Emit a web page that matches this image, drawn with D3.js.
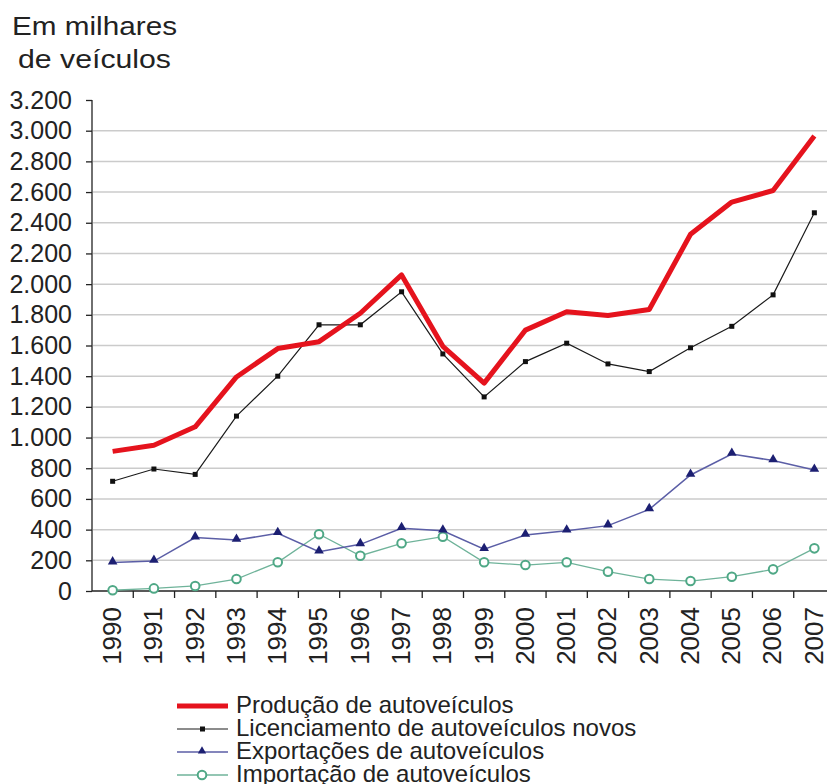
<!DOCTYPE html>
<html><head><meta charset="utf-8">
<script src="https://cdn.jsdelivr.net/npm/d3@7"></script>
<style>
html,body{margin:0;padding:0;background:#fff;}
svg{display:block;font-family:"Liberation Sans",Arial,sans-serif;}
</style></head>
<body><svg id="chart" width="827" height="784"></svg>
<script>
const years = ["1990","1991","1992","1993","1994","1995","1996","1997","1998","1999","2000","2001","2002","2003","2004","2005","2006","2007"];
const producao = [910,950,1070,1395,1580,1625,1810,2060,1595,1355,1700,1820,1795,1835,2325,2535,2610,2965];
const licenciamento = [715,795,760,1140,1400,1735,1735,1950,1545,1265,1495,1615,1480,1430,1585,1725,1930,2465];
const exportacoes = [185,195,348,332,376,256,304,409,393,272,365,393,426,532,756,893,850,789];
const importacao = [5,17,33,78,187,370,230,311,354,187,169,187,126,78,65,93,141,278];
const yTicks = [0,200,400,600,800,1000,1200,1400,1600,1800,2000,2200,2400,2600,2800,3000,3200];
const titleLines = ["Em milhares", "de veículos"];
const seriesNames = ["Produção de autoveículos","Licenciamento de autoveículos novos","Exportações de autoveículos","Importação de autoveículos"];

const svg = d3.select("#chart");
const fmt = d3.formatLocale({decimal:",", thousands:".", grouping:[3], currency:["",""]}).format(",");

const x = d3.scaleBand().domain(years).range([92, 835]).padding(0);
const y = d3.scaleLinear().domain([0, 3200]).range([591, 100]);

// title
svg.append("text").attr("x", 12).attr("y", 35).attr("font-size", 26).attr("fill", "#222")
  .attr("textLength", 165).attr("lengthAdjust", "spacingAndGlyphs").text(titleLines[0]);
svg.append("text").attr("x", 18).attr("y", 68).attr("font-size", 26).attr("fill", "#222")
  .attr("textLength", 153).attr("lengthAdjust", "spacingAndGlyphs").text(titleLines[1]);

// gridlines
svg.append("g").selectAll("line").data(yTicks.filter(d => d > 0 && d < 3200)).join("line")
  .attr("x1", 93).attr("x2", 827).attr("y1", d => y(d)).attr("y2", d => y(d))
  .attr("stroke", "#cbcbcb").attr("stroke-width", 1.5);

// y axis
const yAxis = svg.append("g").attr("transform", "translate(92,0)")
  .call(d3.axisLeft(y).tickValues(yTicks).tickFormat(fmt).tickSize(6).tickPadding(14));
yAxis.select(".domain").attr("stroke", "#222").attr("stroke-width", 1.3).attr("d", "M0,100V591");
yAxis.selectAll(".tick line").attr("stroke", "#222").attr("stroke-width", 1.3);
yAxis.selectAll(".tick text").attr("font-size", 25).attr("fill", "#222").attr("font-family", "Liberation Sans, Arial, sans-serif");

// x axis
const xAxisG = svg.append("g").attr("transform", "translate(0,591)");
xAxisG.append("line").attr("x1", 92).attr("x2", 827).attr("y1", 0).attr("y2", 0).attr("stroke", "#222").attr("stroke-width", 1.5);
xAxisG.selectAll("line.tk").data(years.slice(1)).join("line").attr("class","tk")
  .attr("x1", d => x(d)).attr("x2", d => x(d)).attr("y1", 0).attr("y2", 7)
  .attr("stroke", "#222").attr("stroke-width", 1.3);
xAxisG.selectAll("text").data(years).join("text")
  .attr("transform", d => `translate(${x(d) + x.bandwidth()/2 - 1},16) rotate(-90)`)
  .attr("text-anchor", "end").attr("dy", "0.36em")
  .attr("font-size", 26).attr("fill", "#222").text(d => d);

const cx = d => x(d) + x.bandwidth()/2;
const lineGen = vals => d3.line().x((d,i) => cx(years[i])).y(d => y(d))(vals);

// importação (green)
svg.append("path").attr("d", lineGen(importacao)).attr("fill","none").attr("stroke","#6fb39a").attr("stroke-width",1.3);
svg.append("g").selectAll("circle").data(importacao).join("circle")
  .attr("cx",(d,i)=>cx(years[i])).attr("cy",d=>y(d)).attr("r",4.3)
  .attr("fill","#fff").attr("stroke","#4fa886").attr("stroke-width",2);

// exportações (blue)
svg.append("path").attr("d", lineGen(exportacoes)).attr("fill","none").attr("stroke","#5b5ea6").attr("stroke-width",1.5);
svg.append("g").selectAll("path").data(exportacoes).join("path")
  .attr("d", d3.symbol().type(d3.symbolTriangle).size(40))
  .attr("transform",(d,i)=>`translate(${cx(years[i])},${y(d)-1})`).attr("fill","#1c1f72");

// licenciamento (black)
svg.append("path").attr("d", lineGen(licenciamento)).attr("fill","none").attr("stroke","#1a1a1a").attr("stroke-width",1.2);
svg.append("g").selectAll("rect").data(licenciamento).join("rect")
  .attr("x",(d,i)=>cx(years[i])-2.5).attr("y",d=>y(d)-2.5).attr("width",5).attr("height",5).attr("fill","#111");

// produção (red)
svg.append("path").attr("d", lineGen(producao)).attr("fill","none").attr("stroke","#e5131d").attr("stroke-width",5).attr("stroke-linejoin","round");

// legend
const leg = svg.append("g");
const rowY = [706, 729, 752, 775];
leg.append("line").attr("x1",177).attr("x2",228).attr("y1",rowY[0]).attr("y2",rowY[0]).attr("stroke","#e5131d").attr("stroke-width",5);
leg.append("line").attr("x1",177).attr("x2",228).attr("y1",rowY[1]).attr("y2",rowY[1]).attr("stroke","#1a1a1a").attr("stroke-width",1.2);
leg.append("rect").attr("x",200).attr("y",rowY[1]-2.5).attr("width",5).attr("height",5).attr("fill","#111");
leg.append("line").attr("x1",177).attr("x2",228).attr("y1",rowY[2]).attr("y2",rowY[2]).attr("stroke","#5b5ea6").attr("stroke-width",1.5);
leg.append("path").attr("d", d3.symbol().type(d3.symbolTriangle).size(30)).attr("transform",`translate(202,${rowY[2]-1})`).attr("fill","#1c1f72");
leg.append("line").attr("x1",177).attr("x2",228).attr("y1",rowY[3]).attr("y2",rowY[3]).attr("stroke","#6fb39a").attr("stroke-width",1.3);
leg.append("circle").attr("cx",202).attr("cy",rowY[3]).attr("r",4.3).attr("fill","#fff").attr("stroke","#4fa886").attr("stroke-width",2);
leg.selectAll("text").data(seriesNames).join("text")
  .attr("x",236).attr("y",(d,i)=>rowY[i]+7).attr("font-size",24).attr("fill","#222").text(d=>d);
</script></body></html>
